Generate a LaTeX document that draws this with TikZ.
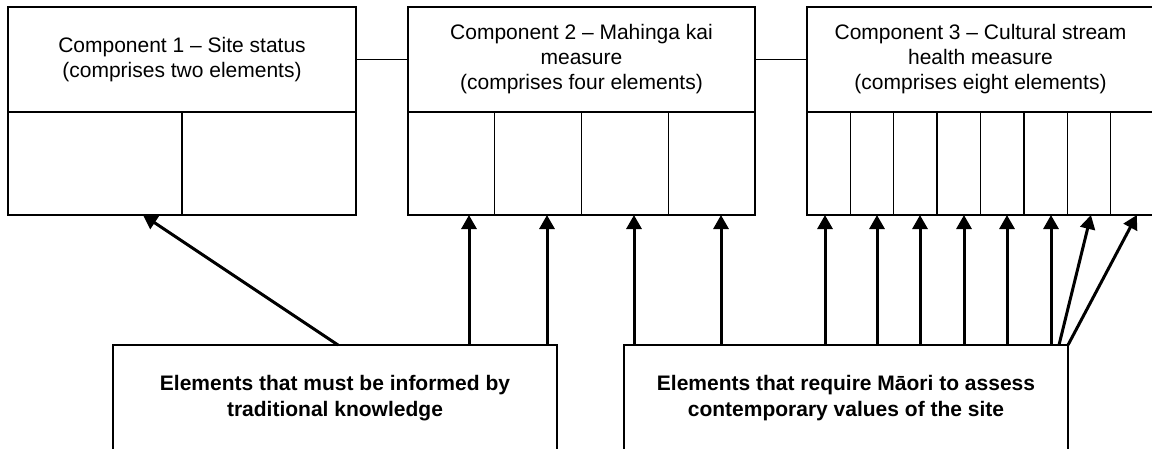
\documentclass[tikz,border=0pt]{standalone}
\usepackage{fontspec}
\setmainfont{Liberation Sans}
\usetikzlibrary{arrows.meta,calc}
\begin{document}
\begin{tikzpicture}[x=1pt,y=-1pt,
  box/.style={draw,line width=1.4pt,inner sep=0pt,outer sep=0pt,align=center,minimum height=105pt,font=\fontsize{21}{25}\selectfont},
  cell/.style={draw,line width=1.4pt,inner sep=0pt,outer sep=0pt,anchor=north west,minimum height=103pt},
  lbl/.style={draw,line width=1.4pt,inner sep=0pt,outer sep=0pt,align=center,minimum width=444pt,minimum height=107pt,font=\fontsize{21}{26}\selectfont\bfseries},
  link/.style={line width=1.4pt},
  arr/.style={line width=3pt,-{Triangle[width=15pt,length=14pt]}}
]
\useasboundingbox (0,0) rectangle (1152,448);
\clip (0,0) rectangle (1152,448);

% top components
\node[box,minimum width=348pt] (c1) at (182,59.5) {Component 1 – Site status\\(comprises two elements)};
\node[box,minimum width=347pt] (c2) at (581.5,59.5) {Component 2 – Mahinga kai\\measure\\(comprises four elements)};
\node[box,minimum width=347pt] (c3) at (980.5,59.5) {Component 3 – Cultural stream\\health measure\\(comprises eight elements)};

% element cells
\foreach \i in {1,2} {
  \node[cell,minimum width=174pt] (c1e\i) at ({8+(\i-1)*174},112) {};
}
\foreach \i in {1,...,4} {
  \node[cell,minimum width=86.75pt] (c2e\i) at ({408+(\i-1)*86.75},112) {};
}
\foreach \i in {1,...,8} {
  \node[cell,minimum width=43.375pt] (c3e\i) at ({807+(\i-1)*43.375},112) {};
}

% links between components
\draw[link] (c1.east) -- (c2.west);
\draw[link] (c2.east) -- (c3.west);

% bottom boxes
\node[lbl] (tk) at (335,398.5) {Elements that must be informed by\\traditional knowledge};
\node[lbl] (ma) at (846,398.5) {Elements that require Māori to assess\\contemporary values of the site};

% arrows from traditional knowledge
\draw[arr] ([xshift=225pt]tk.north west) -- ([xshift=48pt]c1e1.south);
\draw[arr] ([xshift=356pt]tk.north west) coordinate (t2) -- (t2 |- c2e1.south);
\draw[arr] ([xshift=434pt]tk.north west) coordinate (t3) -- (t3 |- c2e2.south);

% arrows from contemporary values
\draw[arr] ([xshift=10pt]ma.north west) coordinate (m1) -- (m1 |- c2e3.south);
\draw[arr] ([xshift=97pt]ma.north west) coordinate (m2) -- (m2 |- c2e4.south);
\draw[arr] ([xshift=201pt]ma.north west) coordinate (m3) -- (m3 |- c3e1.south);
\draw[arr] ([xshift=253pt]ma.north west) coordinate (m4) -- (m4 |- c3e2.south);
\draw[arr] ([xshift=296pt]ma.north west) coordinate (m5) -- (m5 |- c3e3.south);
\draw[arr] ([xshift=340pt]ma.north west) coordinate (m6) -- (m6 |- c3e4.south);
\draw[arr] ([xshift=383pt]ma.north west) coordinate (m7) -- (m7 |- c3e5.south);
\draw[arr] ([xshift=427pt]ma.north west) coordinate (m8) -- (m8 |- c3e6.south);
\draw[arr] ([xshift=435pt]ma.north west) -- ([xshift=2pt]c3e7.south);
\draw[arr] (ma.north east) -- ([xshift=4.5pt]c3e8.south);
\end{tikzpicture}
\end{document}
